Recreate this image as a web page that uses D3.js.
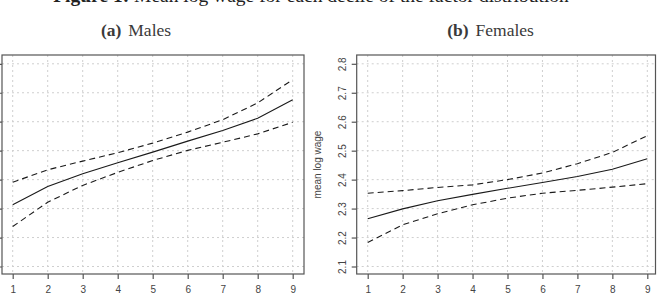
<!DOCTYPE html>
<html>
<head>
<meta charset="utf-8">
<script src="https://cdn.jsdelivr.net/npm/d3@7"></script>
<style>
  body { margin: 0; background: #fff; }
  svg { display: block; }
</style>
</head>
<body>
<div id="chart"></div>
<script>
// deciles of the factor distribution
var deciles = [1, 2, 3, 4, 5, 6, 7, 8, 9];

// males: mean log wage and the 95% band
var maleMean  = [2.513, 2.576, 2.620, 2.658, 2.695, 2.733, 2.770, 2.812, 2.876];
var maleUpper = [2.591, 2.634, 2.664, 2.693, 2.726, 2.764, 2.807, 2.865, 2.945];
var maleLower = [2.438, 2.522, 2.580, 2.625, 2.666, 2.701, 2.729, 2.758, 2.798];

// females
var femaleMean  = [2.265, 2.299, 2.327, 2.349, 2.370, 2.390, 2.411, 2.436, 2.472];
var femaleUpper = [2.353, 2.362, 2.373, 2.382, 2.400, 2.423, 2.455, 2.494, 2.552];
var femaleLower = [2.183, 2.244, 2.282, 2.313, 2.336, 2.353, 2.363, 2.374, 2.386];

var maleTicks = [2.3, 2.4, 2.5, 2.6, 2.7, 2.8, 2.9, 3.0];
var femaleTicks = [2.1, 2.2, 2.3, 2.4, 2.5, 2.6, 2.7, 2.8];

var W = 661, H = 299;

var svg = d3.select("#chart")
    .append("svg")
    .attr("width", W)
    .attr("height", H);

// figure title (mostly cut off at the top of the page)
var title = svg.append("text")
    .attr("x", 311)
    .attr("y", 1.5)
    .attr("text-anchor", "middle")
    .style("font-family", "'Liberation Serif', 'DejaVu Serif', serif")
    .style("font-size", "19.5px")
    .style("fill", "#222");
title.append("tspan").style("font-weight", "bold").text("Figure 1: ");
title.append("tspan").text("Mean log wage for each decile of the factor distribution");

function caption(x, letter, label) {
    var t = svg.append("text")
        .attr("x", x)
        .attr("y", 36)
        .attr("text-anchor", "middle")
        .style("font-family", "'Liberation Serif', 'DejaVu Serif', serif")
        .style("font-size", "17.5px")
        .style("fill", "#3a3a3a");
    t.append("tspan").style("font-weight", "bold").text("(" + letter + ")");
    t.append("tspan").attr("dx", 7).text(label);
}
caption(136, "a", "Males");
caption(490.5, "b", "Females");

function panel(opt) {
    var x = d3.scaleLinear().domain([1, 9]).range([opt.x1, opt.x9]);
    var y = d3.scaleLinear()
        .domain([opt.ticks[0], opt.ticks[opt.ticks.length - 1]])
        .range([266.5, 63.8]);

    var g = svg.append("g");

    // grid
    g.append("g")
        .selectAll("line")
        .data(deciles)
        .enter()
        .append("line")
        .attr("x1", function (d) { return x(d); })
        .attr("x2", function (d) { return x(d); })
        .attr("y1", opt.top)
        .attr("y2", opt.bottom)
        .style("stroke", "#cfcfcf")
        .style("stroke-width", 1)
        .style("stroke-dasharray", "2,3");

    g.append("g")
        .selectAll("line")
        .data(opt.ticks)
        .enter()
        .append("line")
        .attr("x1", opt.left)
        .attr("x2", opt.right)
        .attr("y1", function (d) { return y(d); })
        .attr("y2", function (d) { return y(d); })
        .style("stroke", "#cfcfcf")
        .style("stroke-width", 1)
        .style("stroke-dasharray", "2,3");

    // lines
    function series(vals, dash) {
        var line = d3.line()
            .x(function (d, i) { return x(deciles[i]); })
            .y(function (d) { return y(d); });
        g.append("path")
            .datum(vals)
            .attr("d", line)
            .style("fill", "none")
            .style("stroke", "#1a1a1a")
            .style("stroke-width", 1.1)
            .style("stroke-dasharray", dash);
    }
    series(opt.upper, "6,4");
    series(opt.lower, "6,4");
    series(opt.mean, null);

    // box
    g.append("rect")
        .attr("x", opt.left)
        .attr("y", opt.top)
        .attr("width", opt.right - opt.left)
        .attr("height", opt.bottom - opt.top)
        .style("fill", "none")
        .style("stroke", "#555")
        .style("stroke-width", 1.2);

    // x axis
    var xAxis = g.append("g")
        .attr("transform", "translate(0," + opt.bottom + ")")
        .call(d3.axisBottom(x).tickValues(deciles).tickSize(5).tickPadding(7).tickFormat(d3.format("d")));
    xAxis.select(".domain").remove();
    xAxis.selectAll("line").style("stroke", "#555").style("stroke-width", 1.2);
    xAxis.selectAll("text")
        .style("font-family", "'Liberation Sans', Arial, sans-serif")
        .style("font-size", "10px")
        .style("fill", "#444");

    // y axis
    var yAxis = g.append("g")
        .attr("transform", "translate(" + opt.left + ",0)")
        .call(d3.axisLeft(y).tickValues(opt.ticks).tickSize(5).tickPadding(0).tickFormat(d3.format(".1f")));
    yAxis.select(".domain").remove();
    yAxis.selectAll("line").style("stroke", "#555").style("stroke-width", 1.2);
    yAxis.selectAll("text")
        .attr("x", 0)
        .attr("dy", null)
        .attr("transform", "translate(-14.5,0) rotate(-90)")
        .attr("text-anchor", "middle")
        .attr("dominant-baseline", "central")
        .style("font-family", "'Liberation Sans', Arial, sans-serif")
        .style("font-size", "10px")
        .style("fill", "#444");

    // y label
    g.append("text")
        .attr("transform", "translate(" + (opt.left - 36) + "," + ((opt.top + opt.bottom) / 2) + ") rotate(-90)")
        .attr("text-anchor", "middle")
        .style("font-family", "'Liberation Sans', Arial, sans-serif")
        .style("font-size", "10px")
        .style("fill", "#444")
        .text("mean log wage");
}

panel({
    left: 2, right: 304, top: 55, bottom: 274,
    x1: 12.7, x9: 292.7,
    ticks: maleTicks,
    mean: maleMean, upper: maleUpper, lower: maleLower
});

panel({
    left: 356.7, right: 655.5, top: 55, bottom: 274,
    x1: 367.7, x9: 647.3,
    ticks: femaleTicks,
    mean: femaleMean, upper: femaleUpper, lower: femaleLower
});
</script>
</body>
</html>
